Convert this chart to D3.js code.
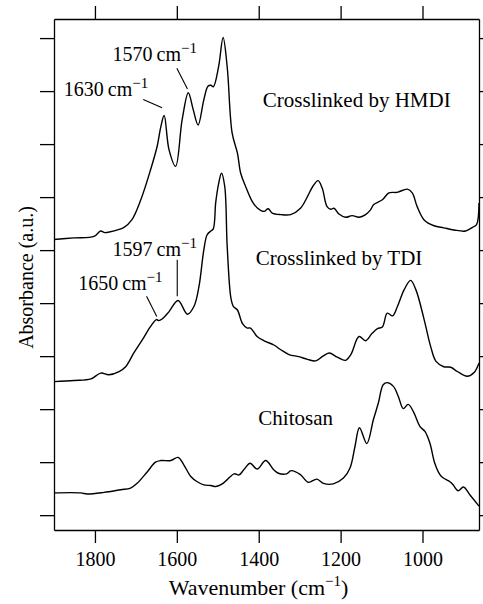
<!DOCTYPE html>
<html>
<head>
<meta charset="UTF-8"/>
<title>FTIR spectra</title>
<script src="https://d3js.org/d3.v7.min.js"></script>
<style>
body { margin: 0; background: #fff; }
svg { display: block; }
text { font-family: 'Liberation Serif', serif; fill: #000; }
.axis path, .axis line { stroke: #000; stroke-width: 1.3; }
.spectrum { fill: none; stroke: #000; stroke-width: 1.4; }
.lead { stroke: #000; stroke-width: 1.1; }
.label { font-size: 21px; }
.note { font-size: 20px; }
</style>
</head>
<body>
<svg width="483" height="604"></svg>
<script>
// spectra: [wavenumber (cm-1), absorbance (a.u.)]
const hmdi = [[1900,5.20],[1851,5.23],[1802,5.26],[1786,5.36],[1776,5.33],[1766,5.34],[1729,5.43],[1710,5.57],
  [1688,5.95],[1664,6.52],[1648,6.96],[1639,7.33],[1631,7.54],[1619,6.89],[1603,6.58],[1587,7.46],[1572,7.97],
  [1560,7.65],[1548,7.36],[1534,7.84],[1524,8.09],[1517,8.11],[1511,8.08],[1498,8.46],[1487,9.01],[1477,8.46],
  [1465,7.21],[1452,6.83],[1444,6.45],[1432,6.20],[1416,5.92],[1404,5.80],[1387,5.73],[1377,5.78],[1367,5.70],
  [1346,5.67],[1322,5.67],[1298,5.79],[1281,6.01],[1268,6.20],[1255,6.31],[1245,6.17],[1233,5.82],[1224,5.77],
  [1216,5.79],[1204,5.68],[1188,5.62],[1172,5.65],[1155,5.62],[1139,5.67],[1127,5.76],[1119,5.86],[1098,5.95],
  [1082,6.08],[1062,6.09],[1037,6.15],[1025,6.08],[1013,5.82],[996,5.57],[972,5.46],[948,5.42],[923,5.38],
  [895,5.36],[878,5.43],[868,5.48],[862,5.89]];

const tdi = [[1900,2.52],[1851,2.54],[1810,2.57],[1786,2.68],[1766,2.65],[1741,2.71],[1725,2.80],[1705,3.06],
  [1684,3.31],[1664,3.56],[1650,3.69],[1644,3.67],[1636,3.70],[1619,3.84],[1597,4.05],[1574,3.79],[1558,3.94],
  [1546,4.31],[1534,5.01],[1526,5.29],[1517,5.36],[1511,5.40],[1505,5.90],[1498,6.25],[1491,6.45],[1483,6.20],
  [1477,5.07],[1468,4.10],[1462,3.94],[1452,3.87],[1440,3.62],[1428,3.53],[1420,3.53],[1404,3.37],[1387,3.29],
  [1363,3.21],[1346,3.12],[1326,3.03],[1302,2.99],[1281,2.94],[1261,2.91],[1245,2.99],[1228,3.06],[1208,2.98],
  [1188,2.92],[1175,3.03],[1155,3.37],[1139,3.29],[1123,3.43],[1110,3.52],[1098,3.55],[1086,3.81],[1073,3.76],
  [1061,3.94],[1045,4.25],[1029,4.43],[1016,4.25],[996,3.69],[980,3.18],[967,2.90],[948,2.80],[931,2.79],
  [915,2.71],[891,2.62],[874,2.69],[862,2.87]];

const chitosan = [[1900,0.42],[1835,0.42],[1819,0.40],[1778,0.43],[1737,0.48],[1713,0.51],[1697,0.60],[1672,0.82],
  [1652,1.00],[1639,1.03],[1615,1.03],[1597,1.09],[1583,0.95],[1566,0.73],[1550,0.63],[1534,0.57],[1517,0.56],
  [1505,0.54],[1489,0.59],[1477,0.67],[1460,0.78],[1448,0.76],[1436,0.86],[1421,0.98],[1404,0.87],[1383,1.03],
  [1364,0.86],[1352,0.79],[1332,0.78],[1321,0.84],[1299,0.77],[1279,0.62],[1258,0.68],[1242,0.60],[1218,0.59],
  [1193,0.70],[1177,0.89],[1165,1.29],[1154,1.65],[1136,1.35],[1120,1.80],[1108,2.11],[1096,2.46],[1086,2.50],
  [1071,2.43],[1059,2.24],[1047,2.01],[1035,2.09],[1022,1.95],[1006,1.67],[994,1.58],[982,1.36],[970,0.98],
  [957,0.76],[949,0.70],[933,0.63],[925,0.57],[913,0.46],[900,0.53],[884,0.38],[864,0.19],[862,0.17]];

const xTicks = [1800, 1600, 1400, 1200, 1000];
const yTicks = [0, 1, 2, 3, 4, 5, 6, 7, 8, 9];

const seriesLabels = ['Crosslinked by HMDI', 'Crosslinked by TDI', 'Chitosan'];
const peakLabels = ['1630', '1570', '1597', '1650'];

const svg = d3.select('svg');
const mLeft = 54, mRight = 479, mTop = 19, mBottom = 530;

const x = d3.scaleLinear().domain([1900, 862]).range([mLeft, mRight]);
const y = d3.scaleLinear().domain([-0.28, 9.36]).range([mBottom, mTop]);

// frame + ticks (all outward, only bottom labelled)
svg.append('g').attr('class', 'axis')
  .attr('transform', `translate(0,${mBottom})`)
  .call(d3.axisBottom(x).tickValues(xTicks).tickSize(13).tickSizeOuter(0).tickPadding(9).tickFormat(d3.format('d')));
svg.append('g').attr('class', 'axis')
  .attr('transform', `translate(0,${mTop})`)
  .call(d3.axisTop(x).tickValues(xTicks).tickSize(13).tickSizeOuter(0).tickFormat(''));
svg.append('g').attr('class', 'axis')
  .attr('transform', `translate(${mLeft},0)`)
  .call(d3.axisLeft(y).tickValues(yTicks).tickSize(14).tickSizeOuter(0).tickFormat(''));
svg.append('g').attr('class', 'axis')
  .attr('transform', `translate(${mRight},0)`)
  .call(d3.axisRight(y).tickValues(yTicks).tickSize(14).tickSizeOuter(0).tickFormat(''));

svg.selectAll('.axis text')
  .attr('font-family', "'Liberation Serif', serif")
  .attr('font-size', 20);

const line = d3.line()
  .x(d => x(d[0]))
  .y(d => y(d[1]))
  .curve(d3.curveCatmullRom.alpha(0.5));

svg.selectAll('path.spectrum')
  .data([hmdi, tdi, chitosan])
  .enter()
  .append('path')
  .attr('class', 'spectrum')
  .attr('d', line);

// series names
const labelPos = [[1390, 7.70], [1407, 4.72], [1401, 1.70]];
svg.selectAll('text.label')
  .data(seriesLabels)
  .enter()
  .append('text')
  .attr('class', 'label')
  .attr('x', (d, i) => x(labelPos[i][0]))
  .attr('y', (d, i) => y(labelPos[i][1]))
  .text(d => d);

// peak annotations: text anchor and leader line, in data units
const notePos = [
  { t: [1876, 7.90], a: [1682, 7.84], b: [1636, 7.685] },
  { t: [1757, 8.56], a: [1600, 8.43], b: [1574, 8.04] },
  { t: [1757, 4.88], a: [1599, 4.82], b: [1599, 4.13] },
  { t: [1841, 4.25], a: [1674, 4.13], b: [1649, 3.75] }
];

peakLabels.forEach((p, i) => {
  const n = notePos[i];
  const t = svg.append('text').attr('class', 'note')
    .attr('x', x(n.t[0])).attr('y', y(n.t[1]));
  t.append('tspan').text(p + '\u2009cm');
  t.append('tspan').attr('font-size', 15).attr('dy', -8).text('\u22121');
  svg.append('line').attr('class', 'lead')
    .attr('x1', x(n.a[0])).attr('y1', y(n.a[1]))
    .attr('x2', x(n.b[0])).attr('y2', y(n.b[1]));
});

// axis titles
const xt = svg.append('text')
  .attr('x', (mLeft + mRight) / 2 - 8)
  .attr('y', 595)
  .attr('text-anchor', 'middle')
  .attr('font-size', 22);
xt.append('tspan').text('Wavenumber (cm');
xt.append('tspan').attr('font-size', 15).attr('dy', -9).text('\u22121');
xt.append('tspan').attr('dy', 9).text(')');

svg.append('text')
  .attr('transform', `translate(33,${(mTop + mBottom) / 2 + 3}) rotate(-90)`)
  .attr('text-anchor', 'middle')
  .attr('font-size', 20)
  .text('Absorbance (a.u.)');
</script>
</body>
</html>
